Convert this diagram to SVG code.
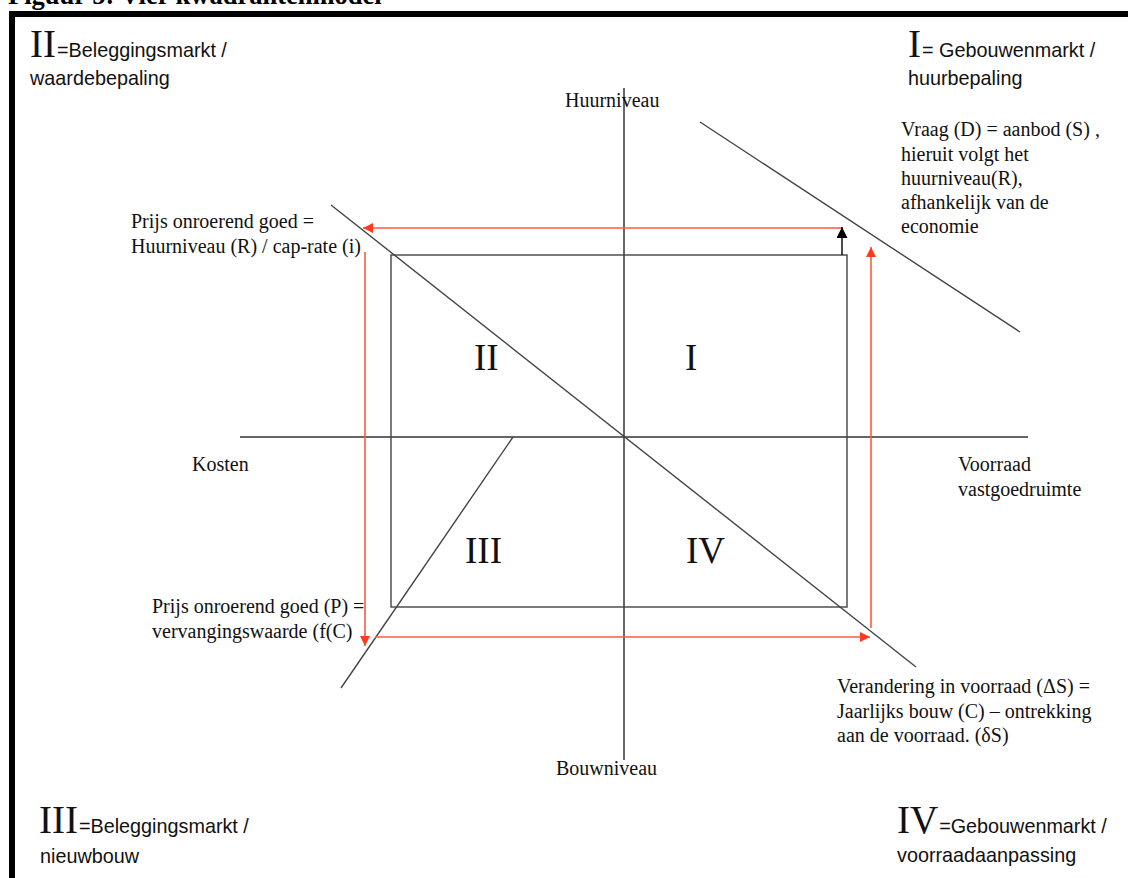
<svg xmlns="http://www.w3.org/2000/svg" width="1128" height="878" viewBox="0 0 1128 878">
<style>
.t{font-family:"Liberation Serif","Times New Roman",serif;font-size:20px;fill:#111}
.a{font-family:"Liberation Sans",Arial,sans-serif;font-size:19.8px;fill:#111}
.big{font-family:"Liberation Serif","Times New Roman",serif;font-size:39px;fill:#111}
.q{font-family:"Liberation Serif","Times New Roman",serif;font-size:37px;fill:#111}
.ln{stroke:#444;stroke-width:1.4;fill:none}
.ax{stroke:#333;stroke-width:1.5;fill:none}
.rd{stroke:#ff5a3c;stroke-width:1.6;fill:none}
</style>
<defs>
<marker id="ra" viewBox="0 0 10 10" refX="10" refY="5" markerWidth="10" markerHeight="10" markerUnits="userSpaceOnUse" orient="auto"><path d="M0,0 L10,5 L0,10 z" fill="#ff3b1f"/></marker>
<marker id="ba" viewBox="0 0 10 10" refX="10" refY="5" markerWidth="11" markerHeight="11" markerUnits="userSpaceOnUse" orient="auto"><path d="M0,0 L10,5 L0,10 z" fill="#000"/></marker>
</defs>
<rect width="1128" height="878" fill="#fff"/>
<text x="8" y="4" style="font-family:'Liberation Serif','Times New Roman',serif;font-size:26.5px;font-weight:bold" fill="#000">Figuur 5: Vier kwadrantenmodel</text>
<g id="frame">
<rect x="9" y="11" width="1119" height="6" fill="#000"/>
<rect x="9" y="11" width="6" height="867" fill="#000"/>
</g>
<g id="connectors">
<line class="ax" x1="624" y1="88" x2="624" y2="760"/>
<line class="ax" x1="240" y1="437" x2="1028" y2="437"/>
<rect class="ln" x="391" y="255" width="456" height="352" stroke="#222"/>
<line class="ln" x1="331" y1="205" x2="916" y2="667"/>
<line class="ln" x1="700" y1="122" x2="1020" y2="332"/>
<line class="ln" x1="513" y1="437" x2="341" y2="688"/>
<line class="rd" x1="842" y1="228" x2="363" y2="228" marker-end="url(#ra)"/>
<line class="rd" x1="365" y1="252" x2="365" y2="646" marker-end="url(#ra)"/>
<line class="rd" x1="375" y1="637" x2="870" y2="637" marker-end="url(#ra)"/>
<line class="rd" x1="871" y1="628" x2="871" y2="247" marker-end="url(#ra)"/>
<line x1="842" y1="255" x2="842" y2="227" stroke="#000" stroke-width="1.4" marker-end="url(#ba)"/>
</g>
<g id="quadrants">
<text class="q" x="474" y="370">II</text>
<text class="q" x="685" y="370">I</text>
<text class="q" x="465" y="563">III</text>
<text class="q" x="686" y="563">IV</text>
</g>
<g id="axis-labels">
<text class="t" x="565" y="107">Huurniveau</text>
<text class="t" x="192" y="471">Kosten</text>
<text class="t" x="958" y="471">Voorraad</text>
<text class="t" x="958" y="496">vastgoedruimte</text>
<text class="t" x="556" y="775">Bouwniveau</text>
</g>
<g id="label-II">
<text x="30" y="57"><tspan class="big">II</tspan><tspan class="a" dx="1">=Beleggingsmarkt /</tspan></text>
<text class="a" x="30" y="85">waardebepaling</text>
</g>
<g id="label-I">
<text x="908" y="57"><tspan class="big">I</tspan><tspan class="a" dx="1">= Gebouwenmarkt /</tspan></text>
<text class="a" x="908" y="85">huurbepaling</text>
</g>
<g id="label-III">
<text x="39" y="833"><tspan class="big">III</tspan><tspan class="a" dx="1">=Beleggingsmarkt /</tspan></text>
<text class="a" x="40" y="863">nieuwbouw</text>
</g>
<g id="label-IV">
<text x="897" y="833"><tspan class="big">IV</tspan><tspan class="a" dx="1">=Gebouwenmarkt /</tspan></text>
<text class="a" x="897" y="862">voorraadaanpassing</text>
</g>
<g id="note-demand">
<text class="t" x="901" y="136">Vraag (D) = aanbod (S) ,</text>
<text class="t" x="901" y="161">hieruit volgt het</text>
<text class="t" x="901" y="185">huurniveau(R),</text>
<text class="t" x="901" y="209">afhankelijk van de</text>
<text class="t" x="901" y="233">economie</text>
</g>
<g id="note-price">
<text class="t" x="131" y="228">Prijs onroerend goed =</text>
<text class="t" x="131" y="253">Huurniveau (R) / cap-rate (i)</text>
</g>
<g id="note-replacement">
<text class="t" x="152" y="613">Prijs onroerend goed (P) =</text>
<text class="t" x="152" y="638">vervangingswaarde (f(C)</text>
</g>
<g id="note-stock">
<text class="t" x="837" y="693">Verandering in voorraad (ΔS) =</text>
<text class="t" x="837" y="718">Jaarlijks bouw (C) – ontrekking</text>
<text class="t" x="837" y="742">aan de voorraad. (δS)</text>
</g>
</svg>
